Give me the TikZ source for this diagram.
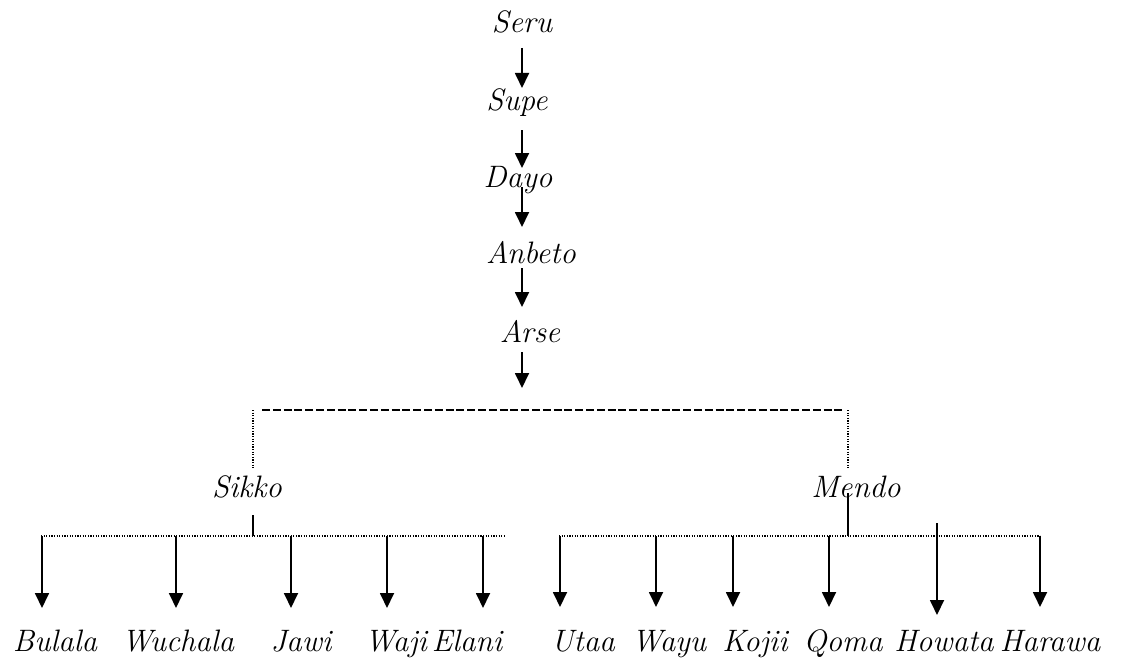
\documentclass[tikz,border=0pt]{standalone}
\usetikzlibrary{arrows.meta}

\tikzset{
  lbl/.style={font=\fontsize{15.5}{18}\selectfont\itshape, inner sep=0pt, anchor=base},
  arr/.style={line width=0.9pt, -{Triangle[width=7pt,length=7.5pt]}},
  stem/.style={line width=0.9pt},
  dashbar/.style={line width=1pt, dash pattern=on 4pt off 1.4pt},
  dotbar/.style={line width=0.6pt, dash pattern=on 0.6pt off 0.7pt}
}

\begin{document}
\begin{tikzpicture}[x=0.5pt, y=-0.5pt]
                \useasboundingbox (0,0) rectangle (1122,658);

                % names
                \node[lbl] (seru) at (522, 33) {Seru};
                \node[lbl] (supe) at (517, 111) {Supe};
                \node[lbl] (dayo) at (518, 187) {Dayo};
                \node[lbl] (anbeto) at (531, 263) {Anbeto};
                \node[lbl] (arse) at (530, 342) {Arse};
                \node[lbl] (sikko) at (247, 497) {Sikko};
                \node[lbl] (mendo) at (856, 497) {Mendo};

                \node[lbl] (bulala) at (55, 651) {Bulala};
                \node[lbl] (wuchala) at (178, 651) {Wuchala};
                \node[lbl] (jawi) at (301, 651) {Jawi};
                \node[lbl] (waji) at (396, 651) {Waji};
                \node[lbl] (elani) at (467, 651) {Elani};
                \node[lbl] (utaa) at (583, 651) {Utaa};
                \node[lbl] (wayu) at (669, 651) {Wayu};
                \node[lbl] (kojii) at (755, 651) {Kojii};
                \node[lbl] (qoma) at (843, 651) {Qoma};
                \node[lbl] (howata) at (944, 651) {Howata};
                \node[lbl] (harawa) at (1050, 651) {Harawa};

                % line ends
                \begin{scope}
                    \node (0) at (522, 48) {};
                    \node (1) at (522, 88) {};
                    \node (2) at (522, 130) {};
                    \node (3) at (522, 168) {};
                    \node (4) at (522, 187) {};
                    \node (5) at (522, 227) {};
                    \node (6) at (522, 268) {};
                    \node (7) at (522, 307) {};
                    \node (8) at (522, 352) {};
                    \node (9) at (522, 388) {};
                    \node (10) at (253, 410) {};
                    \node (11) at (848, 410) {};
                    \node (12) at (253, 468) {};
                    \node (13) at (848, 468) {};
                    \node (14) at (253, 515) {};
                    \node (15) at (253, 536) {};
                    \node (16) at (41, 536) {};
                    \node (17) at (504, 536) {};
                    \node (18) at (848, 493) {};
                    \node (19) at (848, 536) {};
                    \node (20) at (559, 536) {};
                    \node (21) at (1040, 536) {};

                    \draw[arr] (0.center) to (1.center);
                    \draw[arr] (2.center) to (3.center);
                    \draw[arr] (4.center) to (5.center);
                    \draw[arr] (6.center) to (7.center);
                    \draw[arr] (8.center) to (9.center);

                    \draw[dashbar] ([xshift=4.5pt]10.center) to ([xshift=-1.5pt]11.center);
                    \draw[dotbar] (10.center) to (12.center);
                    \draw[dotbar] (11.center) to (13.center);

                    \draw[stem] (14.center) to (15.center);
                    \draw[dotbar] (16.center) to (17.center);
                    \draw[stem] (18.center) to (19.center);
                    \draw[dotbar] (20.center) to (21.center);
                \end{scope}

                % children
                \foreach \x/\top/\tip in {42/536/608, 176/536/608, 291/536/608, 387/536/608, 483/536/608,
                                          560/536/607, 656/536/607, 733/536/607, 829/536/607,
                                          937/523/615, 1040/536/607} {
                    \node (c\x) at (\x, \top) {};
                    \node (t\x) at (\x, \tip) {};
                    \draw[arr] (c\x.center) to (t\x.center);
                }
\end{tikzpicture}
\end{document}
